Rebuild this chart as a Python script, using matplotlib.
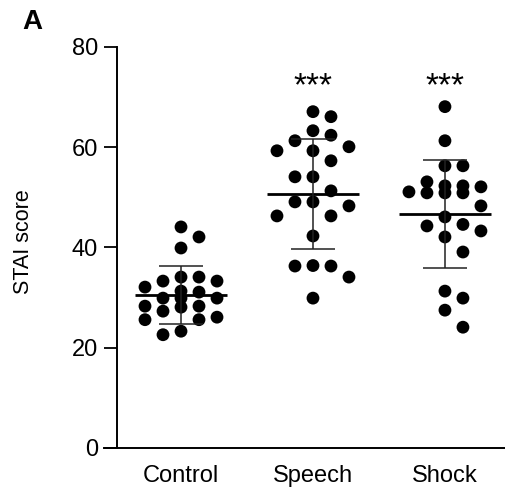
import numpy as np
import matplotlib
matplotlib.use("Agg")
import matplotlib.pyplot as plt

plt.rcParams['font.family'] = ['Liberation Sans', 'DejaVu Sans']

groups = ["Control", "Speech", "Shock"]
control = [44.1, 42.1, 39.9, 34.1, 34.1, 33.3, 33.3, 32.1, 31.3, 31.1, 29.9, 29.9,
           29.9, 28.3, 28.1, 28.3, 27.3, 25.6, 26.1, 25.6, 22.6, 23.3]
speech = [67.1, 66.1, 63.3, 62.4, 61.3, 60.1, 59.3, 59.3, 57.3, 54.1, 54.1, 51.3,
          49.1, 48.3, 49.1, 46.3, 46.3, 42.3, 36.3, 36.3, 36.4, 34.1, 29.9]
shock = [68.1, 61.3, 56.3, 56.3, 53.1, 50.9, 52.3, 50.9, 52.1, 52.3, 50.9, 51.1,
         48.3, 46.1, 44.6, 43.3, 44.3, 42.1, 39.1, 31.3, 29.9, 27.5, 24.1]
means = [30.6, 50.7, 46.7]
sds = [5.8, 11.0, 10.8]
significance = ["", "***", "***"]
yticks = [0, 20, 40, 60, 80]

W, H, DPI = 506, 492, 100
fig = plt.figure(figsize=(W / DPI, H / DPI), dpi=DPI)
ax_left, ax_bottom = 117 / W, 44 / H
ax_w, ax_h = 388 / W, 401 / H
ax = fig.add_axes([ax_left, ax_bottom, ax_w, ax_h])
xlim = (-0.485, 2.455)
ylim = (0, 80)
ax.set_xlim(*xlim)
ax.set_ylim(*ylim)

px_per_x = ax_w * W / (xlim[1] - xlim[0])
px_per_y = ax_h * H / (ylim[1] - ylim[0])

def swarm_offsets(values, step_px=18.0, gaps_px=(18.0, 13.0, 7.0, 0.0)):
    """Column-scatter layout: columns step_px apart; prefer a column where the
    dot is well separated vertically, relaxing the separation if needed."""
    vals = np.asarray(values, dtype=float)
    order = np.argsort(-vals, kind="stable")
    columns = {}
    offs = np.zeros(len(vals))
    cands = [0, 1, -1, 2, -2]
    for i in order:
        y = vals[i] * px_per_y
        chosen = None
        for g in gaps_px:
            for c in cands:
                if all(abs(y - py) >= g for py in columns.get(c, [])):
                    chosen = c
                    break
            if chosen is not None:
                break
        columns.setdefault(chosen, []).append(y)
        offs[i] = chosen * step_px
    return offs / px_per_x

data = [control, speech, shock]
for i, vals in enumerate(data):
    xs = i + swarm_offsets(vals)
    ax.scatter(xs, vals, s=85, color="black", edgecolors="none", zorder=3)
    m, s = means[i], sds[i]
    ax.hlines(m, i - 0.35, i + 0.35, color="black", lw=2.0, zorder=4)
    ax.vlines(i, m - s, m + s, color="#222222", lw=1.1, zorder=4)
    ax.hlines([m - s, m + s], i - 0.17, i + 0.17, color="#222222", lw=1.1, zorder=4)
    if significance[i]:
        ax.text(i, 70.4, significance[i], ha="center", va="baseline", fontsize=24)

ax.set_yticks(yticks)
ax.set_yticklabels([str(t) for t in yticks])
ax.set_xticks(range(len(groups)))
ax.set_xticklabels(groups)
ax.tick_params(axis="y", length=9.5, width=1.3, labelsize=17, pad=4)
ax.tick_params(axis="x", length=0, labelsize=17, pad=12.5)
for sp in ["top", "right"]:
    ax.spines[sp].set_visible(False)
for sp in ["left", "bottom"]:
    ax.spines[sp].set_linewidth(1.4)
ax.spines["bottom"].set_bounds(xlim[0] - 0.1, xlim[1])
ax.spines["bottom"].set_clip_on(False)

fig.text(24 / W, 1 - 242 / H, "STAI score", rotation=90, ha="center", va="center", fontsize=15.5)
fig.text(22 / W, 1 - 9 / H, "A", ha="left", va="top", fontsize=20, fontweight="bold")

fig.savefig("out.png", dpi=DPI)
